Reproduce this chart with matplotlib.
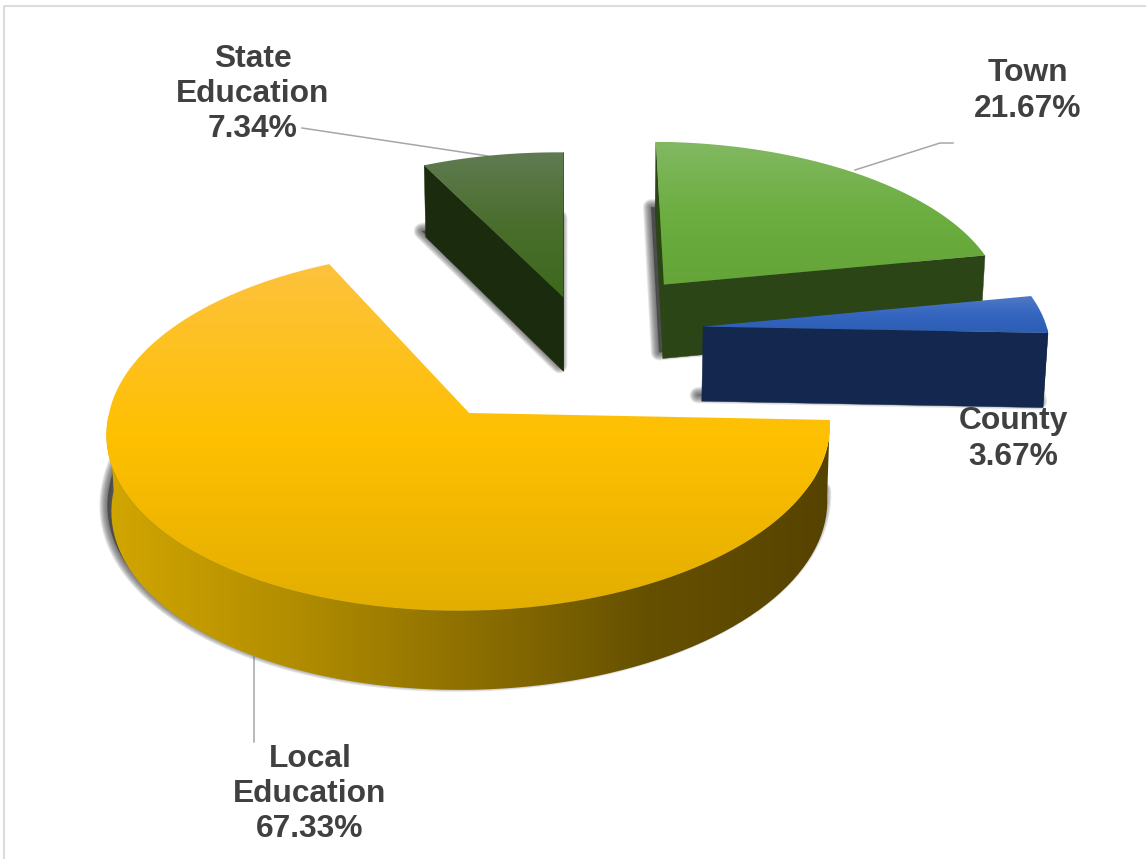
import numpy as np
from matplotlib import pyplot as plt
from matplotlib.colors import to_rgb
from matplotlib.patches import Polygon

names = ['Town', 'County', 'Local\nEducation', 'State\nEducation']
shares = [21.67, 3.67, 67.33, 7.34]

# exploded position of each slice's tip, in pie radii
offset_x = [0.265, 0.373, -0.294, -0.035]
offset_y = [0.770, 0.506, 0.0, 0.690]
label_x = [1028, 1013, 310, 253]
label_y = [91, 439, 794, 94]

# top face gradients, top to bottom
top_colors = [['#82b862', '#6cae40', '#64a438'],
              ['#5079c6', '#3465c0', '#2d5eb4'],
              ['#fdc23e', '#ffc000', '#e2ae00'],
              ['#607b52', '#4a6e2c', '#3d691d']]
side_colors = ['#2b4516', '#14274e', '#5c4800', '#1b2b0d']
rim_colors = [['#2b4516', '#2b4516'],
              ['#14274e', '#14274e'],
              ['#d2a600', '#b38e00', '#8e7000', '#655000', '#574300'],
              ['#26331a', '#1b2b0d']]

# perspective of the pie on the page
x0, y0 = 575, 413
rx, ry = 360, 179
persp = 0.095
depth = 76
skew = 0.02
first_angle = 89.0  # town starts near the top and runs clockwise


def project(x, y, z=0):
    s = 1 / (1 + persp * y)
    shrink = 1 - 0.0106 * z
    return x0 + rx * x * s * shrink, y0 - ry * y * s + depth * z * s ** 0.4


def slice_points(a1, a2, ox, oy, z=0, n=120):
    # tip first, then the arc
    t = np.radians(np.linspace(a1, a2, n))
    xs = np.r_[ox, ox + np.cos(t) - skew * np.clip(np.sin(t), 0, None)]
    ys = np.r_[oy, oy + np.sin(t)]
    px, py = project(xs, ys, z)
    return np.column_stack([px, py])


def gradient_fill(ax, pts, colors, horizontal=False, zorder=3):
    poly = Polygon(pts, closed=True, fc='none', ec='none', transform=ax.transData)
    ax.add_patch(poly)
    stops = np.linspace(0, 1, len(colors))
    pos = np.linspace(0, 1, 256)
    rgb = np.array([to_rgb(c) for c in colors])
    img = np.stack([np.interp(pos, stops, rgb[:, i]) for i in range(3)], axis=-1)
    img = img[np.newaxis, :, :] if horizontal else img[:, np.newaxis, :]
    x1, x2 = pts[:, 0].min(), pts[:, 0].max()
    y1, y2 = pts[:, 1].min(), pts[:, 1].max()
    im = ax.imshow(img, extent=(x1, x2, y2, y1), aspect='auto', zorder=zorder,
                   interpolation='bilinear')
    im.set_clip_path(poly)


def faces_viewer(top, k):
    # a cut face shows only if the slice lies above its edge on the page
    edge = top[k] - top[0]
    normal = np.array([-edge[1], edge[0]])
    if normal @ (top.mean(axis=0) - top[0]) < 0:
        normal = -normal
    return normal[1] < 0


plt.rcParams['font.family'] = ['Liberation Sans', 'DejaVu Sans']
fig = plt.figure(figsize=(11.46, 8.59), dpi=100)
ax = fig.add_axes([0, 0, 1, 1])

# outer frame of the picture
ax.plot([3.5, 3.5, 1146], [859, 5.5, 5.5], color='#dcdcdc', lw=1.5, zorder=1)

# leader lines
ax.plot([302, 488], [128, 156], color='#a6a6a6', lw=1.1, zorder=2)
ax.plot([953, 940, 855], [143, 143, 170], color='#a6a6a6', lw=1.1, zorder=2)
ax.plot([254, 254], [742, 657], color='#a6a6a6', lw=1.1, zorder=2)

# slice angles from the shares, clockwise
sweeps = np.array(shares) / sum(shares) * 360
starts = first_angle - np.r_[0, np.cumsum(sweeps)[:-1]]

# painted back to front
for order, i in enumerate([3, 0, 1, 2]):
    a1, a2 = starts[i], starts[i] - sweeps[i]
    base = 3 + order * 5
    top = slice_points(a1, a2, offset_x[i], offset_y[i])
    bottom = slice_points(a1, a2, offset_x[i], offset_y[i], z=1)

    # soft shadow round the foot of the slice
    foot = bottom - [4, 6]
    ax.add_patch(Polygon(foot, closed=True, fc='#404040', ec='none', alpha=0.8, zorder=base))
    for lw in range(2, 18, 2):
        ax.add_patch(Polygon(foot, closed=True, fill=False, ec='#404040',
                             alpha=0.13, lw=lw * 0.72, joinstyle='round', zorder=base))

    # the cut faces that can be seen
    for k in [1, -1]:
        if faces_viewer(top, k):
            quad = np.array([top[0], top[k], bottom[k], bottom[0]])
            ax.add_patch(Polygon(quad, closed=True, fc=side_colors[i], ec=side_colors[i],
                                 lw=0.3, zorder=base + 1))

    # rim, only the part facing the viewer
    t = np.linspace(a1, a2, 120)
    front = np.sin(np.radians(t)) <= 0
    if front.any():
        rim = np.vstack([top[1:][front], bottom[1:][front][::-1]])
        gradient_fill(ax, rim, rim_colors[i], horizontal=True, zorder=base + 2)

    gradient_fill(ax, top, top_colors[i], zorder=base + 3)

for i in range(len(names)):
    ax.text(label_x[i], label_y[i], f'{names[i]}\n{shares[i]:.2f}%', ha='center', va='center',
            fontsize=22.9, fontweight='bold', color='#404040', linespacing=1.23, zorder=40)

ax.set_xlim(0, 1146)
ax.set_ylim(859, 0)
ax.axis('off')
fig.savefig('out.png', dpi=100)
